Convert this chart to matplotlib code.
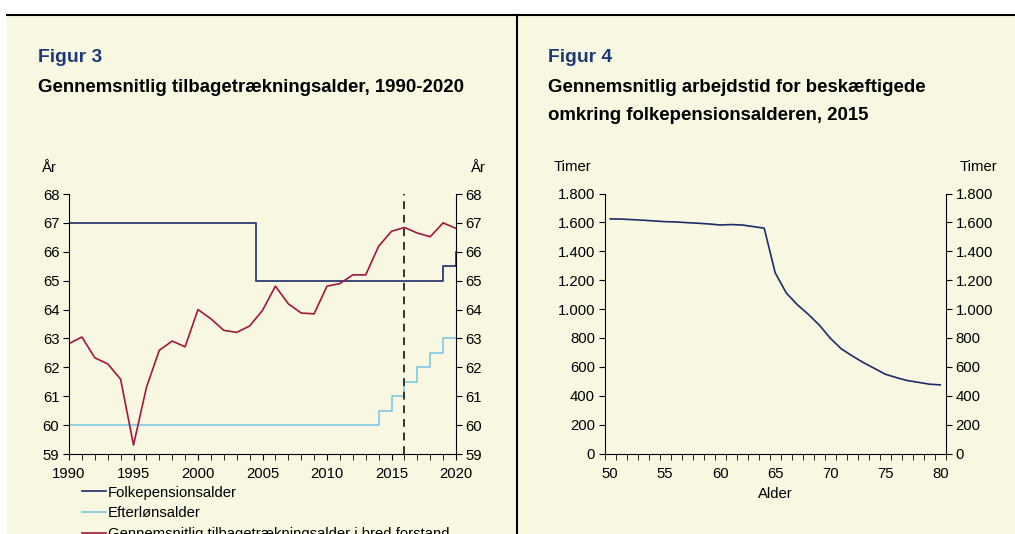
import matplotlib
matplotlib.use("Agg")
import matplotlib.pyplot as plt
from matplotlib.lines import Line2D
from matplotlib.ticker import FuncFormatter

plt.rcParams['font.family'] = ['Liberation Sans', 'DejaVu Sans']

# --- data, figur 3 ---
years = list(range(1990, 2021))
tilbage = [62.82, 63.05, 62.33, 62.12, 61.59, 59.31, 61.30, 62.59, 62.91, 62.71,
           64.00, 63.68, 63.28, 63.21, 63.43, 63.97, 64.81, 64.20, 63.88, 63.85,
           64.81, 64.90, 65.20, 65.20, 66.19, 66.71, 66.84, 66.65, 66.52, 67.00,
           66.81]
folk_x = [1990, 2004.5, 2019, 2020]
folk_y = [67, 65, 65.5, 66]
efter_x = [1990, 2014, 2015, 2016, 2017, 2018, 2019, 2020]
efter_y = [60, 60.5, 61, 61.5, 62, 62.5, 63, 63]
marker_year = 2016

# --- data, figur 4 ---
alder = list(range(50, 81))
timer = [1624, 1623, 1619, 1615, 1610, 1605, 1603, 1598, 1594, 1589,
         1582, 1585, 1582, 1571, 1560, 1251, 1112, 1031, 964, 890,
         799, 725, 676, 630, 590, 549, 526, 505, 493, 480, 475]

bg = '#f8f7e1'
navy = '#1b2c6b'
lightblue = '#7ec8e3'
red = '#a3173e'
title_blue = '#1d3978'
fs = 10.7

W, H = 1015, 534
fig = plt.figure(figsize=(W / 100, H / 100), dpi=100)
fig.patch.set_facecolor('white')


def px(x0, y0, x1, y1):
    return [x0 / W, 1 - y1 / H, (x1 - x0) / W, (y1 - y0) / H]


# cream background and frame lines
bgax = fig.add_axes([0, 0, 1, 1])
bgax.set_xlim(0, W)
bgax.set_ylim(H, 0)
bgax.axis('off')
bgax.add_patch(plt.Rectangle((7, 15), W - 7, H - 15, color=bg, zorder=0))
bgax.plot([7, W], [15, 15], color='black', lw=1.5)
bgax.plot([517, 517], [15, H], color='black', lw=1.5)

# titles
fig.text(38 / W, 1 - 58 / H, 'Figur 3', color=title_blue, fontsize=13.9,
         fontweight='bold', va='center')
fig.text(38 / W, 1 - 87 / H, 'Gennemsnitlig tilbagetrækningsalder, 1990-2020',
         fontsize=13.4, fontweight='bold', va='center')
fig.text(548 / W, 1 - 58 / H, 'Figur 4', color=title_blue, fontsize=13.9,
         fontweight='bold', va='center')
fig.text(548 / W, 1 - 87 / H, 'Gennemsnitlig arbejdstid for beskæftigede',
         fontsize=13.4, fontweight='bold', va='center')
fig.text(548 / W, 1 - 115 / H, 'omkring folkepensionsalderen, 2015',
         fontsize=13.4, fontweight='bold', va='center')

# ---------------- figur 3 ----------------
ax1 = fig.add_axes(px(69, 194, 456, 454))
ax1.set_facecolor('none')
ax1.step(folk_x, folk_y, where='post', color=navy, lw=1.2)
ax1.step(efter_x, efter_y, where='post', color=lightblue, lw=1.2)
ax1.plot(years, tilbage, color=red, lw=1.2)
ax1.axvline(marker_year, color='#333333', lw=1.4, ls=(0, (4, 3)))
ax1.set_xlim(1990, 2020)
ax1.set_ylim(59, 68)
ax1.set_yticks(range(59, 69))
ax1.set_xticks(range(1990, 2021, 5))
ax1.set_xticks(range(1990, 2021), minor=True)
ax1.tick_params(axis='y', left=True, right=True, labelleft=True, labelright=True,
                direction='out', length=4, labelsize=fs, pad=3)
ax1.tick_params(axis='x', which='both', direction='out', length=4, labelsize=fs, pad=5)
ax1.spines['top'].set_visible(False)
fig.text(49 / W, 1 - 168 / H, 'År', fontsize=fs, ha='center', va='center')
fig.text(478 / W, 1 - 168 / H, 'År', fontsize=fs, ha='center', va='center')

handles = [Line2D([], [], color=navy, lw=1.2),
           Line2D([], [], color=lightblue, lw=1.2),
           Line2D([], [], color=red, lw=1.2)]
labels = ['Folkepensionsalder', 'Efterlønsalder',
          'Gennemsnitlig tilbagetrækningsalder i bred forstand']
fig.legend(handles, labels, loc='upper left', bbox_to_anchor=(82 / W, 1 - 485.5 / H),
           frameon=False, fontsize=fs, handlelength=1.6, handletextpad=0.13,
           labelspacing=0.47, borderaxespad=0, borderpad=0)

# ---------------- figur 4 ----------------
ax2 = fig.add_axes(px(604.7, 193.5, 945.7, 453.5))
ax2.set_facecolor('none')
ax2.plot(alder, timer, color=navy, lw=1.2)
ax2.set_xlim(49.5, 80.5)
ax2.set_ylim(0, 1800)
ax2.set_yticks(range(0, 1801, 200))
ax2.yaxis.set_major_formatter(FuncFormatter(lambda v, p: f'{int(v):,}'.replace(',', '.')))
ax2.set_xticks(range(50, 81, 5))
ax2.set_xticks([a - 0.5 for a in alder] + [80.5], minor=True)
ax2.tick_params(axis='x', which='major', length=0, labelsize=fs, pad=10)
ax2.tick_params(axis='x', which='minor', direction='out', length=4)
ax2.tick_params(axis='y', left=True, right=True, labelleft=True, labelright=True,
                direction='out', length=4, labelsize=fs, pad=3)
ax2.spines['top'].set_visible(False)
ax2.set_xlabel('Alder', fontsize=fs, labelpad=4)
fig.text(572 / W, 1 - 167 / H, 'Timer', fontsize=fs, ha='center', va='center')
fig.text(978 / W, 1 - 167 / H, 'Timer', fontsize=fs, ha='center', va='center')

fig.savefig('out.png', dpi=100, facecolor=fig.get_facecolor())
